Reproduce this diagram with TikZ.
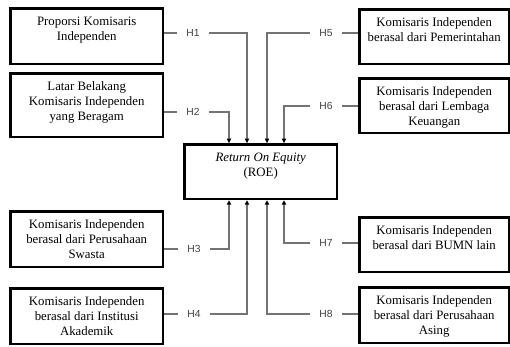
\documentclass[tikz,border=0pt]{standalone}
\usepackage{fontspec}
\setmainfont{Liberation Serif}
\newfontfamily\hfont{Liberation Sans}
\usetikzlibrary{arrows.meta}
\newcommand\bxtext[3]{\parbox[t][#2][t]{#1}{\centering\rule{0pt}{13pt}#3}}
\begin{document}
\begin{tikzpicture}[x=1pt,y=-1pt,
  box/.style={draw=black, line width=2.4pt, inner sep=4pt, anchor=north west,
    font=\fontsize{12.8}{15}\selectfont},
  hlab/.style={font=\hfont\fontsize{10.3}{12}\selectfont, text=black!75,
    inner xsep=9pt, inner ysep=2pt},
  conn/.style={draw=black!55, line width=1.1pt},
  arr/.style={conn, -{Triangle[length=4.5pt,width=4.2pt,color=black]}}
]
\useasboundingbox (0,0) rectangle (510,347);

% left boxes
\node[box] (b1) at (9.2,7.2)   {\bxtext{144.6pt}{47.6pt}{Proporsi Komisaris\\Independen}};
\node[box] (b2) at (9.2,72.2)  {\bxtext{144.6pt}{55.6pt}{Latar Belakang\\Komisaris Independen\\yang Beragam}};
\node[box] (b3) at (9.2,210.2) {\bxtext{144.6pt}{47.6pt}{Komisaris Independen\\berasal dari Perusahaan\\Swasta}};
\node[box] (b4) at (9.2,287.2) {\bxtext{144.6pt}{47.6pt}{Komisaris Independen\\berasal dari Institusi\\Akademik}};
% right boxes
\node[box] (b5) at (358.2,8.2)   {\bxtext{141.6pt}{46.6pt}{Komisaris Independen\\berasal dari Pemerintahan}};
\node[box] (b6) at (358.2,77.2)  {\bxtext{141.6pt}{46.6pt}{Komisaris Independen\\berasal dari Lembaga\\Keuangan}};
\node[box] (b7) at (358.2,216.2) {\bxtext{141.6pt}{46.6pt}{Komisaris Independen\\berasal dari BUMN lain}};
\node[box] (b8) at (358.2,286.2) {\bxtext{141.6pt}{47.6pt}{Komisaris Independen\\berasal dari Perusahaan\\Asing}};
% centre
\node[box] (roe) at (183.2,143.2) {\bxtext{144.6pt}{46.6pt}{\textit{Return On Equity}\\(ROE)}};

% labels
\node[hlab] (h1) at (193,33)  {H1};
\node[hlab] (h2) at (193,112) {H2};
\node[hlab] (h3) at (194,249) {H3};
\node[hlab] (h4) at (194,314) {H4};
\node[hlab] (h5) at (326,33)  {H5};
\node[hlab] (h6) at (326,106) {H6};
\node[hlab] (h7) at (326,243) {H7};
\node[hlab] (h8) at (326,314) {H8};

% connectors left
\draw[conn] (b1.east |- h1) -- (h1.west);
\draw[arr]  (h1.east) -| (247,0 |- roe.north);
\draw[conn] (b2.east |- h2) -- (h2.west);
\draw[arr]  (h2.east) -| (229,0 |- roe.north);
\draw[conn] (b3.east |- h3) -- (h3.west);
\draw[arr]  (h3.east) -| (229,0 |- roe.south);
\draw[conn] (b4.east |- h4) -- (h4.west);
\draw[arr]  (h4.east) -| (247,0 |- roe.south);
% connectors right
\draw[conn] (b5.west |- h5) -- (h5.east);
\draw[arr]  (h5.west) -| (267,0 |- roe.north);
\draw[conn] (b6.west |- h6) -- (h6.east);
\draw[arr]  (h6.west) -| (284,0 |- roe.north);
\draw[conn] (b7.west |- h7) -- (h7.east);
\draw[arr]  (h7.west) -| (284,0 |- roe.south);
\draw[conn] (b8.west |- h8) -- (h8.east);
\draw[arr]  (h8.west) -| (267,0 |- roe.south);
\end{tikzpicture}
\end{document}
